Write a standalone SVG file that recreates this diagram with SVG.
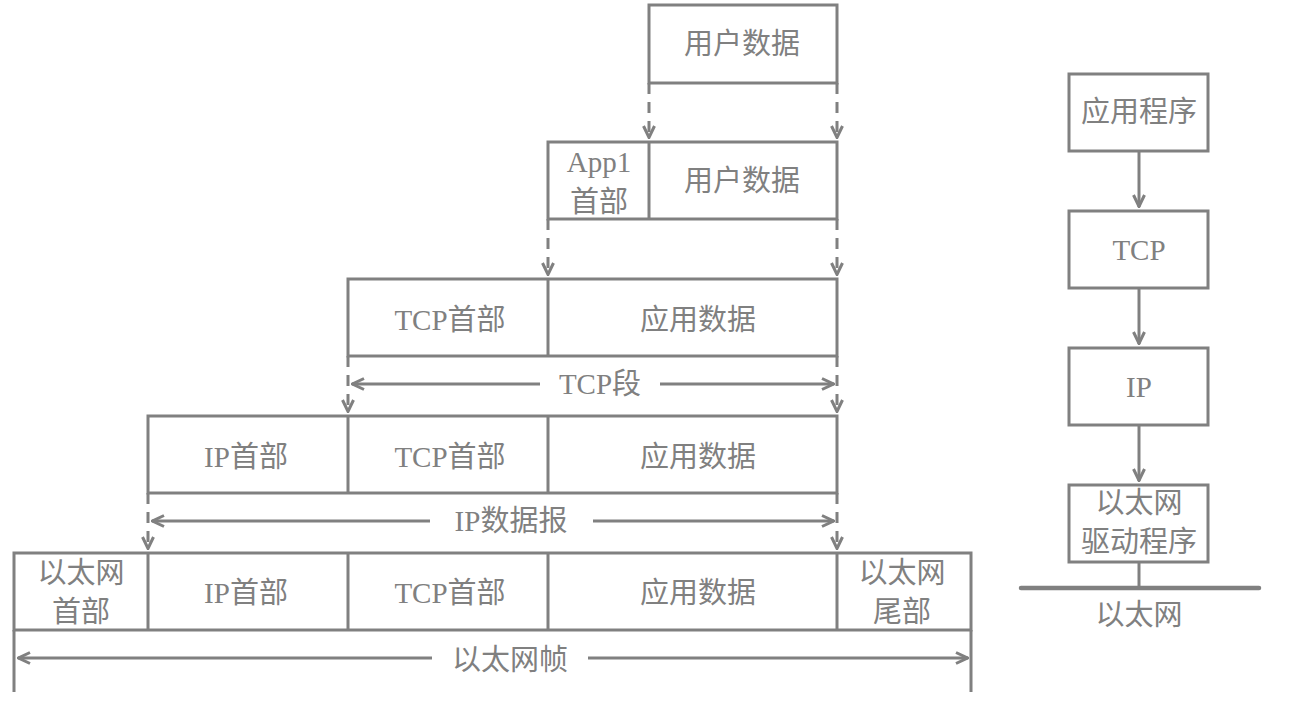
<svg xmlns="http://www.w3.org/2000/svg" width="1301" height="707" viewBox="0 0 1301 707">
<defs>
<style>
.b{fill:#fff;stroke:#808080;stroke-width:3}
.l{fill:none;stroke:#808080;stroke-width:3}
.d{fill:none;stroke:#808080;stroke-width:3;stroke-dasharray:11 8}
text{font-family:"Liberation Serif","Noto Sans CJK SC",serif;font-size:29px;fill:#808080;text-anchor:middle;dominant-baseline:central}
</style>
<marker id="a" viewBox="0 0 14 14" refX="13" refY="7" markerWidth="14" markerHeight="14" markerUnits="userSpaceOnUse" orient="auto-start-reverse">
<path d="M1,1.5 L12.5,7 L1,12.5" fill="none" stroke="#808080" stroke-width="3"/>
</marker>
</defs>
<g id="connectors">
<path class="d" d="M649,83 V138" marker-end="url(#a)"/>
<path class="d" d="M837,83 V138" marker-end="url(#a)"/>
<path class="d" d="M548,219 V275" marker-end="url(#a)"/>
<path class="d" d="M837,219 V275" marker-end="url(#a)"/>
<path class="d" d="M348,356 V412" marker-end="url(#a)"/>
<path class="d" d="M837,356 V412" marker-end="url(#a)"/>
<path class="d" d="M148,493 V549" marker-end="url(#a)"/>
<path class="d" d="M837,493 V549" marker-end="url(#a)"/>
<path class="l" d="M352,384 H540" marker-start="url(#a)"/>
<path class="l" d="M660,384 H834" marker-end="url(#a)"/>
<path class="l" d="M152,521 H430" marker-start="url(#a)"/>
<path class="l" d="M593,521 H834" marker-end="url(#a)"/>
<path class="l" d="M14,630 V692 M971,630 V692"/>
<path class="l" d="M18,658 H432" marker-start="url(#a)"/>
<path class="l" d="M588,658 H968" marker-end="url(#a)"/>
<path class="l" d="M1139,151 V207" marker-end="url(#a)"/>
<path class="l" d="M1139,288 V344" marker-end="url(#a)"/>
<path class="l" d="M1139,425 V481" marker-end="url(#a)"/>
<path class="l" d="M1139,562 V588"/>
<path fill="none" stroke="#808080" stroke-width="4.5" stroke-linecap="round" d="M1021,588 H1259"/>
</g>
<g id="labels">
<text x="600" y="384">TCP段</text>
<text x="511" y="521">IP数据报</text>
<text x="510" y="660">以太网帧</text>
<text x="1139" y="615">以太网</text>
</g>
<g id="row1">
<rect class="b" x="649" y="5" width="188" height="78"/>
<text x="742" y="44">用户数据</text>
</g>
<g id="row2">
<rect class="b" x="548" y="142" width="289" height="77"/>
<path class="l" d="M649,142 V219"/>
<text x="599" y="162">App1</text>
<text x="599" y="202">首部</text>
<text x="742" y="181">用户数据</text>
</g>
<g id="row3">
<rect class="b" x="348" y="279" width="489" height="77"/>
<path class="l" d="M548,279 V356"/>
<text x="450" y="320">TCP首部</text>
<text x="698" y="320">应用数据</text>
</g>
<g id="row4">
<rect class="b" x="148" y="416" width="689" height="77"/>
<path class="l" d="M348,416 V493 M548,416 V493"/>
<text x="246" y="457">IP首部</text>
<text x="450" y="457">TCP首部</text>
<text x="698" y="457">应用数据</text>
</g>
<g id="row5">
<rect class="b" x="14" y="553" width="957" height="77"/>
<path class="l" d="M148,553 V630 M348,553 V630 M548,553 V630 M837,553 V630"/>
<text x="81" y="573">以太网</text>
<text x="81" y="612">首部</text>
<text x="246" y="593">IP首部</text>
<text x="450" y="593">TCP首部</text>
<text x="698" y="593">应用数据</text>
<text x="902" y="573">以太网</text>
<text x="902" y="612">尾部</text>
</g>
<g id="app">
<rect class="b" x="1069" y="74" width="139" height="77"/>
<text x="1139" y="112">应用程序</text>
</g>
<g id="tcp">
<rect class="b" x="1069" y="211" width="139" height="77"/>
<text x="1139" y="250">TCP</text>
</g>
<g id="ip">
<rect class="b" x="1069" y="348" width="139" height="77"/>
<text x="1139" y="387">IP</text>
</g>
<g id="eth">
<rect class="b" x="1069" y="485" width="139" height="77"/>
<text x="1139" y="503">以太网</text>
<text x="1139" y="542">驱动程序</text>
</g>
</svg>
